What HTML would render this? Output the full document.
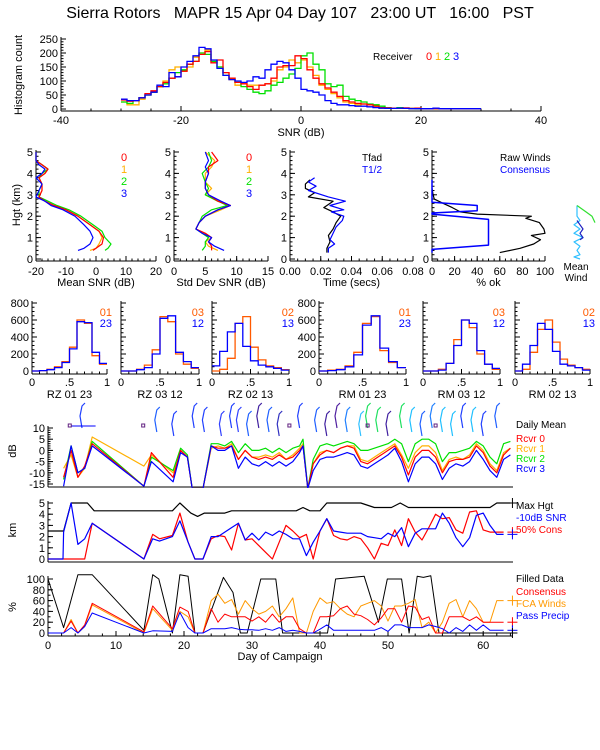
<!DOCTYPE html>
<html><head><meta charset="utf-8"><title>Sierra Rotors MAPR</title>
<style>html,body{margin:0;padding:0;background:#fff;}svg{display:block;}</style></head>
<body>
<svg id="c" width="600" height="750" xmlns="http://www.w3.org/2000/svg" font-family="Liberation Sans, sans-serif" font-size="10">
<rect x="0" y="0" width="600" height="750" fill="#fff"/>
<text x="300" y="18" font-size="16" text-anchor="middle" xml:space="preserve">Sierra Rotors   MAPR 15 Apr 04 Day 107   23:00 UT   16:00   PST</text>
</svg>
<script>
// ---------- DATA: top SNR histogram (1 dB bins from -30) ----------
const snrBinStart = -30;
const histR0 = [32,28,30,40,55,65,80,95,110,115,135,160,170,195,205,165,175,130,110,95,90,80,70,85,90,110,150,155,155,190,180,140,110,90,75,60,45,30,25,20,18,15,10,5,4,3,3,4,2,3,1,1,1,1,1,1,1,1,1,1];
const histR1 = [25,15,15,35,50,60,80,100,140,150,135,150,185,200,210,165,150,130,105,85,90,85,85,85,90,100,140,150,175,165,175,150,120,85,70,55,40,25,20,15,18,15,15,3,2,2,2,2,1,1,1,1,1,1,1,1,1,1,1,1];
const histR2 = [25,20,30,40,50,60,80,90,110,130,140,160,170,200,195,170,150,120,110,95,80,70,60,55,65,85,95,110,125,145,190,200,160,140,90,80,85,45,35,30,25,18,15,10,5,3,5,3,2,1,1,1,1,1,1,1,1,1,1,1];
const histR3 = [35,30,30,40,50,60,85,80,130,115,150,170,190,220,215,175,145,120,105,100,95,100,115,110,140,160,170,165,140,110,70,65,60,50,30,20,15,15,12,10,10,8,5,3,2,2,3,2,1,1,1,1,3,1,1,1,1,1,1,1];
const histTicksX = [-40,-20,0,20,40];
const histTicksY = [0,50,100,150,200,250];

// ---------- DATA: height profiles ----------
const meanH = [0.4,0.5,0.7,1.0,1.3,1.6,2.0,2.3,2.5,2.7,2.9,3.2,3.5,3.8,4.0,4.2,4.4,4.6,5.0];
const meanR0 = [-1,0,2,2.5,1,-2,-6,-10,-14,-17,-19,-18,-18,-19,-17,-16,-18,-20,-20];
const meanR1 = [-2,0,1,2,1,-2,-6,-10,-14,-17,-19,-18,-18,-19,-17,-16,-18,-20,-20];
const meanR2 = [3,4,5,3,2,-1,-5,-9,-13,-16,-19,-19,-18,-19,-18,-16,-18,-20,-20];
const meanR3 = [-6,-4,-2,-1,-2,-4,-7,-11,-15,-17,-20,-19,-18,-20,-18,-17,-19,-20,-20];
const sdH = [0.4,0.6,0.8,1.0,1.2,1.4,1.7,2.0,2.3,2.5,2.7,3.0,3.3,3.6,4.0,4.3,4.6,5.0];
const sdR0 = [6,6,5.5,6,5,3.5,4,5,7,9,7,5.5,5,5,5.5,5.5,7,6];
const sdR1 = [7,5.5,5,6,5,3.5,4,5,7.5,9,7,5,6,5,5,6,6.5,5];
const sdR2 = [4.5,5,5,5.5,4.5,3.5,4,4.5,6,8.5,7,5,5.5,5,4.5,5.5,6,5.5];
const sdR3 = [8,6.5,5.5,6,4.5,3.5,4,5,7,9,7.5,5.5,5,5,5.5,5,5.5,5];
const tfadH = [0.3,0.5,0.8,1.1,1.4,1.7,2.0,2.2,2.4,2.7,2.9,3.1,3.3,3.5,3.7];
const tfadV = [0.024,0.024,0.026,0.025,0.028,0.030,0.033,0.028,0.022,0.028,0.012,0.016,0.010,0.010,0.013];
const thalfH = [0.3,0.5,0.7,0.9,1.2,1.5,1.8,2.0,2.2,2.3,2.5,2.7,2.9,3.2,3.4,3.6,3.8];
const thalfV = [0.025,0.025,0.029,0.026,0.028,0.030,0.034,0.035,0.027,0.035,0.026,0.036,0.025,0.012,0.017,0.012,0.016];
const rawH = [0.3,0.5,0.7,0.9,1.1,1.2,1.4,1.7,1.9,2.0,2.1,2.2,2.4,2.6,2.8,3.0,3.3];
const rawV = [60,78,90,96,88,100,99,95,83,88,40,25,18,10,2,1,0];
const consH = [0.3,0.45,0.65,1.85,2.1,2.15,2.25,2.5,2.65,3.7];
const consV = [0,0,50,50,0,0,40,40,0,0];

// ---------- DATA: correlation histograms (0.1 bins) ----------
const corrNames = ['RZ  01 23','RZ  03 12','RZ  02 13','RM  01 23','RM  03 12','RM  02 13'];
const corrLabA = ['01','03','02','01','03','02'];
const corrLabB = ['23','12','13','23','12','13'];
const corrA = [
 [0,5,20,50,110,280,600,560,180,80],
 [0,0,20,70,250,640,580,200,80,30],
 [0,20,150,560,640,280,130,60,40,15],
 [0,10,20,60,220,560,640,240,100,40],
 [0,0,20,90,370,600,510,200,80,20],
 [0,20,220,490,600,340,140,70,40,20]];
const corrB = [
 [0,5,15,40,100,260,580,570,220,90],
 [0,0,15,40,200,620,650,220,110,40],
 [60,230,460,560,290,120,70,50,30,10],
 [0,5,15,50,190,540,650,270,110,40],
 [0,0,10,90,300,600,560,240,80,30],
 [0,80,300,560,490,230,80,60,40,10]];

// ---------- DATA: daily mean SNR (dB) ----------
const dayA = [2.3,3.4,4.4,5.4,6.5,14.1,15.2,18.4,19.5,20.5,21.2,22.8,24,25,26,27,28,29,30,31,32,33,34,35,36,37,37.5,38.2,39,40,41,42,43,44,45,46,47,48,49,50,51,52,53,54,55,56,57,58,59,60,61,62,63,64,65,66,67,68];
const dbR0 = [-12,0,-12,-7,3,-16,-1,-12,0,-3,-17,-17, 2,1,1,2,-4,0,-3,-4,-3,-4,-2,-4,-3,0, 2,-17,-6, -2,0,-1,1,2,1,-5,-6,-4,-2,0,2,-3,-11,-3,0,0,-3,-10,-5,-4,-4,-3,2,-1,-7,-10,-2,1];
const dbR1 = [-8,-2,-12,-8,6,-7,-2,-10,0,-3,-17,-17, 1,2,1,3,-4,0,-3,-3,-2,-3,-1,-4,-2,1, 3,-17,-6, -1,0,-1,1,2,2,-4,-5,-3,-1,1,3,-2,-8,-1,2,2,-1,-9,-4,-3,-4,-2,3,0,-6,-9,-1,1];
const dbR2 = [-13,2,-10,-8,4,-16,-3,-9,1,-2,-17,-17, 3,3,2,4,-1,3,0,0,1,-1,1,-1,1,2, 5,-17,-4, 2,3,2,3,4,3,0,0,1,2,3,5,3,-5,3,5,5,3,-5,-1,-1,0,1,4,2,-3,-6,3,4];
const dbR3 = [-16,2,-10,-8,2,-16,-5,-14,-1,-3,-17,-17, 2,0,0,2,-8,-3,-6,-7,-5,-7,-5,-7,-5,-1, 2,-17,-9, -4,-3,-3,-2,-1,-2,-7,-8,-6,-4,-2,1,-5,-14,-6,-3,-3,-6,-13,-8,-6,-7,-5,0,-4,-9,-12,-4,-2];

// ---------- DATA: heights (km) ----------
const dayB = [0,2.2,2.3,3.4,4.4,5.4,6.5,14.1,15.4,16.4,18.3,19.4,20.6,21.6,22.8,24,25,26,27,28,29,30,31,32,33,34,35,36,37,38,39,40,41,42,43,44,45,46,47,48,49,50,51,52,53,54,55,56,57,58,59,60,61,62,63,64,65,66,67];
const snrHgt = [0,0,2.4,5,1.3,1.8,3.2,0,1.8,1.6,2.0,3.4,1.5,0,0, 2.0,2.0,2.4,2.8,3.2,1.7,2.3,1.7,2.4,2.1,2.5,2.2,1.8,1.8,0.3,1.5,2.5,3.6,2.5,2.4,2.3,2.3,2.3,2.0,1.9,1.8,2.3,2.0,2.8,1.1,2.3,2.7,2.7,2.7,4.1,3.2,1.9,1.1,1.9,3.9,4.1,3.0,2.2,2.2];
const consHgt = [0,0,0,0,0,0,3.2,0,2.2,1.8,2.1,4.1,1.5,0,0, 1.8,2.1,2.0,0.8,3.2,1.7,1.8,1.2,0.6,0,1.5,3.0,2.5,1.9,2.2,0,2.5,3.6,2.1,1.8,1.7,2.0,1.8,1.0,0,1.4,1.2,2.6,1.2,3.6,2.4,1.7,2.8,4.0,3.6,3.7,2.6,2.3,4.2,4.3,2.6,2.4,2.4,2.4];
const dayMax = [0,2.3,3.4,5.8,6.8,18.3,19.4,21,22,23,26,27,36.5,37.5,38.5,40,41,46,48,50.5,51.8,53,65,66,68];
const maxHgt = [2.5,2.5,5,5,4.3,4.3,5,4.1,3.8,4.1,4.1,4.3,4.3,4.6,4.3,4.3,5,5,4.6,4.6,5,4.6,4.6,5,5];

// ---------- DATA: percentages ----------
const dayC = [0,2.3,3.4,4.4,5.4,6.5,14.1,15.4,18.3,19.4,20.6,21.6,22.8,24,25,26,27,28,29,30,31,32,33,34,35,36,37,38,39,40,41,42,43,44,45,46,47,48,49,50,51,52,53,54,55,56,57,58,59,60,61,62,63,64,65,66,67];
const pctCons = [0,0,22,0,15,55,2,50,8,48,40,0,0, 45,20,35,30,30,30,22,30,20,35,20,30,30,8,0,0,30,30,32,45,50,35,32,25,15,28,45,45,20,50,48,25,30,0,0,30,30,30,23,30,20,20,20,20];
const pctFca = [0,0,25,0,12,52,0,45,5,40,30,0,0, 60,72,55,62,35,60,45,35,40,50,30,45,65,0,0,40,65,55,58,45,35,30,50,55,60,50,22,50,50,55,62,10,20,0,20,55,62,30,60,45,20,20,60,60];
const pctPrecip = [0,0,10,0,12,37,0,4,3,38,10,0,0, 8,8,8,10,7,6,6,5,8,5,10,3,5,3,0,0,7,15,5,5,5,5,5,5,5,10,3,15,15,10,10,10,15,12,8,0,10,3,15,5,15,5,5,5];
const dayFill = [0,2.3,4.4,6.5,14.1,15.4,16.3,18.3,19.4,20.6,21.6,22.8,25.8,27.2,28.3,29.3,31.3,33.5,34.5,41.1,42.3,46.5,48.6,49.9,52,53.1,54.3,55.2,56.3,57.5,68];
const pctFill = [100,10,108,108,5,108,100,0,108,105,0,0,103,75,0,0,100,100,0,0,100,105,20,100,100,0,105,103,106,0,0];
const dayTickVals = [0,10,20,30,40,50,64];
const dayTickLabels = ['0','10','20','30','40','50','60'];
const barbDays = [5,16,18.5,21.5,23,25.5,27,28,29.5,31,32.5,34,37,39.5,41,42.5,44,46,47,48.5,50,52,53.5,55,56.5,58,59.5,61,62.5,64,66];
const barbColors = ['#2040ff','#2060ff','#2040ff','#2040ff','#2040ff','#3040ff','#2040ff','#3040ff','#2060ff','#4020a0','#2060ff','#3030c0','#2040ff','#2060ff','#4020a0','#5020a0','#2080ff','#30c0ff','#20e060','#20e060','#4020a0','#20e060','#20c0ff','#2060ff','#2080ff','#20c0ff','#20c0ff','#2040ff','#20c0ff','#2040ff','#2060ff'];
</script>
<script>
const NS='http://www.w3.org/2000/svg';
const svg=document.getElementById('c');
function mk(tag,attrs,parent){const e=document.createElementNS(NS,tag);for(const k in attrs)e.setAttribute(k,attrs[k]);(parent||svg).appendChild(e);return e;}
function tag(e,n,inter){
  
  
  return e;}
function lin(d0,d1,r0,r1){return v=>r0+(v-d0)*(r1-r0)/(d1-d0);}
function txt(x,y,s,name,o){o=o||{};const t=mk('text',{x:x,y:y,fill:o.fill||'#000','text-anchor':o.anchor||'start','font-size':o.size||10});if(o.rot)t.setAttribute('transform','rotate(-90 '+x+' '+y+')');t.textContent=s;tag(t,name);return t;}
function pl(xs,ys,sx,sy,color,name,clip,w){const pts=xs.map((x,i)=>sx(x).toFixed(1)+','+sy(ys[i]).toFixed(1)).join(' ');const p=mk('polyline',{points:pts,fill:'none',stroke:color,'stroke-width':w||1.2,'stroke-linejoin':'round'});if(clip)p.setAttribute('clip-path','url(#'+clip+')');tag(p,name);return p;}
function seg(x1,y1,x2,y2,name,col){const l=mk('line',{x1:x1,y1:y1,x2:x2,y2:y2,stroke:col||'#000','stroke-width':1});tag(l,name);return l;}
function axisY(x,yTop,yBot,sy,ticks,labels,minor,name){
  const g=mk('g',{});tag(g,name);
  g.appendChild(seg(x,yTop,x,yBot,name+'-line'));
  if(minor){minor.forEach(v=>{const y=sy(v);g.appendChild(seg(x,y,x+2.5,y,name+'-minor-tick'));});}
  ticks.forEach((v,i)=>{const y=sy(v);g.appendChild(seg(x,y,x+5,y,name+'-tick'));
    if(labels){g.appendChild(txt(x-3,y+4,labels[i],name+'-label',{anchor:'end',size:11}));}});
  return g;}
function axisX(y,x0,x1,sx,ticks,labels,minor,name,labY){
  const g=mk('g',{});tag(g,name);
  g.appendChild(seg(x0,y,x1,y,name+'-line'));
  if(minor){minor.forEach(v=>{const x=sx(v);g.appendChild(seg(x,y,x,y-2.5,name+'-minor-tick'));});}
  ticks.forEach((v,i)=>{const x=sx(v);g.appendChild(seg(x,y,x,y-5,name+'-tick'));
    if(labels){g.appendChild(txt(x,labY,labels[i],name+'-label',{anchor:'middle',size:11}));}});
  return g;}
function range(a,b,s){const r=[];for(let v=a;v<=b+1e-9;v+=s)r.push(+v.toFixed(4));return r;}
function stepPath(start,width,vals,sx,sy,color,name){
  let d='';vals.forEach((v,i)=>{const x0=sx(start+i*width),x1=sx(start+(i+1)*width),y=sy(v);
    d+=(i==0?'M':'L')+x0.toFixed(1)+','+y.toFixed(1)+'L'+x1.toFixed(1)+','+y.toFixed(1);});
  const p=mk('path',{d:d,fill:'none',stroke:color,'stroke-width':1.3});tag(p,name);return p;}
const defs=mk('defs',{});
function clip(id,x,y,w,h){const c=mk('clipPath',{id:id},defs);mk('rect',{x:x,y:y,width:w,height:h},c);}

const RED='#ff0000',ORG='#ffb000',GRN='#00e000',BLU='#0000ff';

// ===== Top histogram =====
{
 const sx=lin(-40,40,61,541), sy=lin(0,250,109,39);
 axisY(61,37,111,sy,histTicksY,histTicksY.map(String),range(0,250,10),'hist-y-axis');
 axisX(111,61,541,sx,histTicksX,histTicksX.map(String),range(-40,40,5),'hist-x-axis',124);
 txt(301,136,'SNR (dB)','hist-x-title',{anchor:'middle',size:11});
 txt(22,75,'Histogram count','hist-y-title',{anchor:'middle',size:11,rot:true});
 stepPath(snrBinStart,1,histR1,sx,sy,ORG,'hist-receiver-1');
 stepPath(snrBinStart,1,histR2,sx,sy,GRN,'hist-receiver-2');
 stepPath(snrBinStart,1,histR0,sx,sy,RED,'hist-receiver-0');
 stepPath(snrBinStart,1,histR3,sx,sy,BLU,'hist-receiver-3');
 txt(373,60,'Receiver','hist-legend-title',{size:10});
 [['0',RED],['1',ORG],['2',GRN],['3',BLU]].forEach((a,i)=>{txt(426+i*9,60,a[0],'hist-legend-entry-'+a[0],{fill:a[1],size:11});});
}

// ===== Profile row =====
{
 const sy=lin(0,5,259,152);
 const hT=[0,1,2,3,4,5];
 const panels=[
  {x0:36,x1:156,d:[-20,20],ticks:[-20,-10,0,10,20],lab:['-20','-10','0','10','20'],minor:range(-20,20,2),title:'Mean SNR (dB)',n:'mean-snr'},
  {x0:174,x1:268,d:[0,15],ticks:[0,5,10,15],lab:['0','5','10','15'],minor:range(0,15,1),title:'Std Dev SNR (dB)',n:'std-snr'},
  {x0:290,x1:413,d:[0,0.08],ticks:[0,0.02,0.04,0.06,0.08],lab:['0.00','0.02','0.04','0.06','0.08'],minor:range(0,0.08,0.005),title:'Time (secs)',n:'time'},
  {x0:432,x1:545,d:[0,100],ticks:[0,20,40,60,80,100],lab:['0','20','40','60','80','100'],minor:range(0,100,5),title:'% ok',n:'pct-ok'}];
 const sxs=[];
 panels.forEach(p=>{const sx=lin(p.d[0],p.d[1],p.x0,p.x1);sxs.push(sx);
  axisY(p.x0,150,261,sy,hT,hT.map(String),range(0,5,0.2),p.n+'-y-axis');
  axisX(261,p.x0,p.x1,sx,p.ticks,p.lab,p.minor,p.n+'-x-axis',275);
  txt((p.x0+p.x1)/2,286,p.title,p.n+'-x-title',{anchor:'middle',size:11});});
 txt(20,205,'Hgt (km)','profile-y-title',{anchor:'middle',size:11,rot:true});
 pl(meanR1,meanH,sxs[0],sy,ORG,'mean-snr-r1');
 pl(meanR2,meanH,sxs[0],sy,GRN,'mean-snr-r2');
 pl(meanR0,meanH,sxs[0],sy,RED,'mean-snr-r0');
 pl(meanR3,meanH,sxs[0],sy,BLU,'mean-snr-r3');
 pl(sdR1,sdH,sxs[1],sy,ORG,'std-snr-r1');
 pl(sdR2,sdH,sxs[1],sy,GRN,'std-snr-r2');
 pl(sdR0,sdH,sxs[1],sy,RED,'std-snr-r0');
 pl(sdR3,sdH,sxs[1],sy,BLU,'std-snr-r3');
 pl(tfadV,tfadH,sxs[2],sy,'#000','tfad-line');
 pl(thalfV,thalfH,sxs[2],sy,BLU,'thalf-line');
 pl(rawV,rawH,sxs[3],sy,'#000','raw-winds-line');
 pl(consV,consH,sxs[3],sy,BLU,'consensus-line',null,1.5);
 [['0',RED],['1',ORG],['2',GRN],['3',BLU]].forEach((a,i)=>{
  txt(121,161+i*12,a[0],'mean-snr-legend-'+a[0],{fill:a[1],size:11});
  txt(246,161+i*12,a[0],'std-snr-legend-'+a[0],{fill:a[1],size:11});});
 txt(362,161,'Tfad','time-legend-tfad',{size:10});
 txt(362,173,'T1/2','time-legend-thalf',{fill:BLU,size:10});
 txt(500,161,'Raw Winds','pct-legend-raw',{size:10});
 txt(500,173,'Consensus','pct-legend-consensus',{fill:BLU,size:10});
 const mw=mk('g',{});tag(mw,'mean-wind-glyph');
 mw.appendChild(pl([0,0,1,-1,1,-1,2,-1,1,0,1,-1,1],[2.5,2.0,1.8,1.6,1.4,1.2,1.0,0.8,0.6,0.4,0.2,0.1,0],v=>577+v*3,sy,'#30c0ff','mean-wind-cyan'));
 mw.appendChild(pl([0,1,2,1,2,1],[1.8,1.6,1.4,1.2,1.0,0.9],v=>577+v*3,sy,'#2020c0','mean-wind-blue'));
 mw.appendChild(pl([0,3,5,6],[2.5,2.2,2.0,1.7],v=>577+v*3,sy,'#30e030','mean-wind-green'));
 txt(576,270,'Mean','mean-wind-label-1',{anchor:'middle',size:10});
 txt(576,281,'Wind','mean-wind-label-2',{anchor:'middle',size:10});
}

// ===== Correlation histograms =====
{
 const sy=lin(0,800,371,303);
 const xr=[[32,107],[121,199],[212,289],[319,406],[423,500],[515,590]];
 xr.forEach((r,k)=>{const sx=lin(0,1,r[0],r[1]);const n='corr-panel-'+(k+1);
  axisY(r[0],301,374,sy,[0,200,400,600,800],(k==0||k==3)?['0','200','400','600','800']:null,range(0,800,50),n+'-y-axis');
  axisX(374,r[0],r[1],sx,[0,0.5,1],['0','.5','1'],range(0,1,0.1),n+'-x-axis',386);
  txt((r[0]+r[1])/2,398,corrNames[k],n+'-title',{anchor:'middle',size:11});
  stepPath(0,0.1,corrA[k],sx,sy,'#ff5a00',n+'-series-a');
  stepPath(0,0.1,corrB[k],sx,sy,BLU,n+'-series-b');
  txt(r[1]+5,316,corrLabA[k],n+'-legend-a',{anchor:'end',fill:'#ff5a00',size:11});
  txt(r[1]+5,327,corrLabB[k],n+'-legend-b',{anchor:'end',fill:BLU,size:11});});
}

// ===== Campaign time series =====
{
 const sx=lin(0,10,48,116);
 const X1=513;
 clip('clipA',48,426,466,62);clip('clipB',48,499,466,64);clip('clipC',48,570,466,67);
 const syA=lin(-15,10,484,428);
 axisY(48,426,487,syA,[-15,-10,-5,0,5,10],['-15','-10','-5','0','5','10'],range(-15,10,1),'dailymean-y-axis');
 axisX(487,48,X1,sx,[],null,null,'dailymean-x-axis');
 txt(16,451,'dB','dailymean-y-title',{anchor:'middle',size:11,rot:true});
 pl(dayA,dbR1,sx,syA,ORG,'dailymean-rcvr1','clipA');
 pl(dayA,dbR2,sx,syA,GRN,'dailymean-rcvr2','clipA');
 pl(dayA,dbR0,sx,syA,RED,'dailymean-rcvr0','clipA');
 pl(dayA,dbR3,sx,syA,BLU,'dailymean-rcvr3','clipA');
 txt(516,428,'Daily Mean','dailymean-legend-title',{size:10});
 [['Rcvr 0',RED],['Rcvr 1',ORG],['Rcvr 2',GRN],['Rcvr 3',BLU]].forEach((a,i)=>{txt(516,442+i*10,a[0],'dailymean-legend-'+i,{fill:a[1],size:10});});
 const bg=mk('g',{});tag(bg,'wind-barbs');
 barbDays.forEach((d,i)=>{const x=sx(d);const top=406+(i%3)*4;
  const b=mk('polyline',{points:x+','+(top+22)+' '+(x-2)+','+(top+10)+' '+x+','+top+' '+(x+3)+','+(top-3),fill:'none',stroke:barbColors[i],'stroke-width':1.2},bg);
  
  });
 seg(sx(3.4),426,sx(7),426,'wind-barb-calm',BLU);
 [3.2,14,35.5,47,57].forEach(d=>{const r=mk('rect',{x:sx(d)-1.5,y:424,width:3,height:3,fill:'none',stroke:'#602080'});tag(r,'calm-marker');});
 const syB=lin(0,5,559,503);
 axisY(48,501,562,syB,[0,1,2,3,4,5],['0','1','2','3','4','5'],range(0,5,0.5),'height-y-axis');
 axisX(562,48,X1,sx,[],null,null,'height-x-axis');
 txt(16,530,'km','height-y-title',{anchor:'middle',size:11,rot:true});
 pl(dayMax,maxHgt,sx,syB,'#000','max-hgt-line','clipB');
 pl(dayB,consHgt,sx,syB,RED,'cons50-hgt-line','clipB');
 pl(dayB,snrHgt,sx,syB,BLU,'snr10-hgt-line','clipB');
 txt(516,509,'Max Hgt','height-legend-max',{size:10});
 txt(516,521,'-10dB SNR','height-legend-snr',{fill:BLU,size:10});
 txt(516,533,'50% Cons','height-legend-cons',{fill:RED,size:10});
 const syC=lin(0,100,633,579);
 axisY(48,576,636,syC,[0,20,40,60,80,100],['0','20','40','60','80','100'],range(0,100,10),'percent-y-axis');
 axisX(636,48,X1,sx,dayTickVals,dayTickLabels,range(0,68,2),'day-x-axis',649);
 txt(280,660,'Day of Campaign','day-x-title',{anchor:'middle',size:11});
 txt(16,607,'%','percent-y-title',{anchor:'middle',size:11,rot:true});
 pl(dayFill,pctFill,sx,syC,'#000','filled-data-line','clipC',1);
 pl(dayC,pctFca,sx,syC,'#ff9900','fca-winds-line','clipC',1);
 pl(dayC,pctCons,sx,syC,RED,'consensus-pct-line','clipC',1);
 pl(dayC,pctPrecip,sx,syC,BLU,'pass-precip-line','clipC',1);
 txt(516,582,'Filled Data','percent-legend-filled',{size:10});
 txt(516,595,'Consensus','percent-legend-consensus',{fill:RED,size:10});
 txt(516,607,'FCA Winds','percent-legend-fca',{fill:'#ff9900',size:10});
 txt(516,619,'Pass Precip','percent-legend-precip',{fill:BLU,size:10});
 function cross(x,y,c,n){seg(x-5,y,x+5,y,n,c);seg(x,y-5,x,y+5,n,c);}
 const xe=sx(68.3);
 cross(xe,syB(maxHgt[maxHgt.length-1]),'#000','max-hgt-end');
 cross(xe,syB(consHgt[consHgt.length-1]),RED,'cons-hgt-end');
 cross(xe,syB(snrHgt[snrHgt.length-1]),BLU,'snr-hgt-end');
 cross(xe,syC(pctCons[pctCons.length-1]),RED,'cons-pct-end');
 cross(xe,syC(pctFca[pctFca.length-1]),'#ff9900','fca-pct-end');
 cross(xe,syC(pctPrecip[pctPrecip.length-1]),BLU,'precip-pct-end');
 cross(xe,syC(pctFill[pctFill.length-1]),'#000','fill-pct-end');
}
</script>
</body></html>
